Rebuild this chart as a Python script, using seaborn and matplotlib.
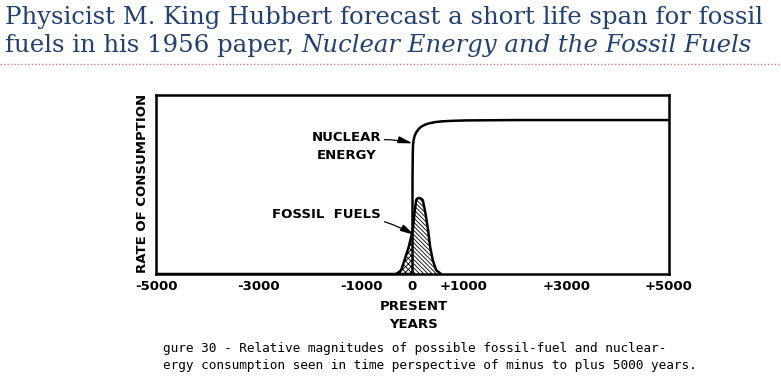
import matplotlib
matplotlib.use("Agg")
import matplotlib.pyplot as plt
import seaborn as sns
import numpy as np
import pandas as pd

# Werte (Jahre relativ zur Gegenwart)
nuclear_years = [-5000, 0, 0, 5, 10, 20, 40, 70, 120, 170, 250, 330, 450, 585, 800, 1040, 2000, 5000]
nuclear_rate = [0, 0, 0.52, 0.66, 0.72, 0.745, 0.77, 0.79, 0.81, 0.823, 0.835, 0.842, 0.849, 0.853, 0.856, 0.858, 0.86, 0.86]

fossil_years = [-316, -220, -155, -72, 6, 39, 71, 100, 136, 170, 200, 252, 304, 343, 395, 460, 557]
fossil_rate = [0, 0.022, 0.078, 0.153, 0.246, 0.34, 0.413, 0.423, 0.425, 0.42, 0.413, 0.34, 0.246, 0.153, 0.078, 0.022, 0]

tick_years = [-5000, -4000, -3000, -2000, -1000, 0, 1000, 2000, 3000, 4000, 5000]
tick_labels = ["-5000", "", "-3000", "", "-1000", "0", "+1000", "", "+3000", "", "+5000"]

title_line1 = "Physicist M. King Hubbert forecast a short life span for fossil"
title_line2a = "fuels in his 1956 paper, "
title_line2b = "Nuclear Energy and the Fossil Fuels"
caption = ("gure 30 - Relative magnitudes of possible fossil-fuel and nuclear-\n"
           "ergy consumption seen in time perspective of minus to plus 5000 years.")

W, H = 781, 381
sns.set_style("white")
plt.rcParams["hatch.linewidth"] = 0.6
plt.rcParams["hatch.color"] = "black"

fig = plt.figure(figsize=(W / 100, H / 100), dpi=100)
ax = fig.add_axes([156 / W, 1 - 274 / H, (669 - 156) / W, (274 - 95) / H])

nuc = pd.DataFrame({"year": nuclear_years, "rate": nuclear_rate})
fos = pd.DataFrame({"year": fossil_years, "rate": fossil_rate})

fy = np.array(fossil_years)
fr = np.array(fossil_rate)
ax.fill_between(fy, 0, fr, where=fy <= 6, facecolor="white", edgecolor="black",
                hatch="xxxxxx", linewidth=0)
ax.fill_between(fy, 0, fr, where=fy >= 6, facecolor="white", edgecolor="black",
                hatch="\\" * 8, linewidth=0)
sns.lineplot(data=fos, x="year", y="rate", estimator=None, sort=False,
             color="black", linewidth=1.8, ax=ax)
sns.lineplot(data=nuc, x="year", y="rate", estimator=None, sort=False,
             color="black", linewidth=1.8, ax=ax)

lbl = dict(fontsize=9.5, fontweight="bold", family="DejaVu Sans", color="black")

ax.set_xlim(-5000, 5000)
ax.set_ylim(0, 1)
ax.set_xticks(tick_years)
ax.set_xticklabels(tick_labels, **lbl)
ax.set_yticks([])
ax.tick_params(axis="x", direction="in", length=9, width=1.2, pad=4, colors="black")
ax.set_xlabel("")
ax.set_ylabel("")
for s in ax.spines.values():
    s.set_visible(True)
    s.set_color("black")
    s.set_linewidth(1.8)

arrow = dict(arrowstyle="-|>,head_length=0.9,head_width=0.22", color="black",
             lw=0.9, shrinkA=0, shrinkB=0, connectionstyle="arc3,rad=-0.15")
ax.annotate("NUCLEAR\nENERGY", xy=(0, 0.73), xytext=(-1290, 0.715),
            ha="center", va="center", linespacing=1.5, arrowprops=arrow, **lbl)
ax.annotate("FOSSIL  FUELS", xy=(40, 0.218), xytext=(-1670, 0.33),
            ha="center", va="center", arrowprops=arrow, **lbl)

fig.text(142 / W, 1 - 183.5 / H, "RATE OF CONSUMPTION", rotation=90,
         ha="center", va="center", **lbl)
fig.text(414 / W, 1 - 306 / H, "PRESENT", ha="center", va="center", **lbl)
fig.text(414 / W, 1 - 324 / H, "YEARS", ha="center", va="center", **lbl)
fig.text(163 / W, 1 - 357 / H, caption, ha="left", va="center", fontsize=9.2,
         family="DejaVu Sans Mono", linespacing=1.4, color="black")

# Titel mit kursivem Teil
blue = "#24416f"
tsize = 17.6
fig.text(5 / W, 1 - 24 / H, title_line1, ha="left", va="baseline",
         fontsize=tsize, family="DejaVu Serif", color=blue)
t2 = fig.text(5 / W, 1 - 52 / H, title_line2a, ha="left", va="baseline",
              fontsize=tsize, family="DejaVu Serif", color=blue)
r = fig.canvas.get_renderer()
bb = t2.get_window_extent(renderer=r)
fig.text(bb.x1 / W, 1 - 52 / H, title_line2b, ha="left", va="baseline",
         fontsize=tsize, family="DejaVu Serif", style="italic", color=blue)
fig.add_artist(plt.Line2D([0, 1], [1 - 64 / H, 1 - 64 / H], transform=fig.transFigure,
                          color="#c98080", linestyle=(0, (1, 1.5)), linewidth=1))

fig.savefig("out.png", dpi=100)
